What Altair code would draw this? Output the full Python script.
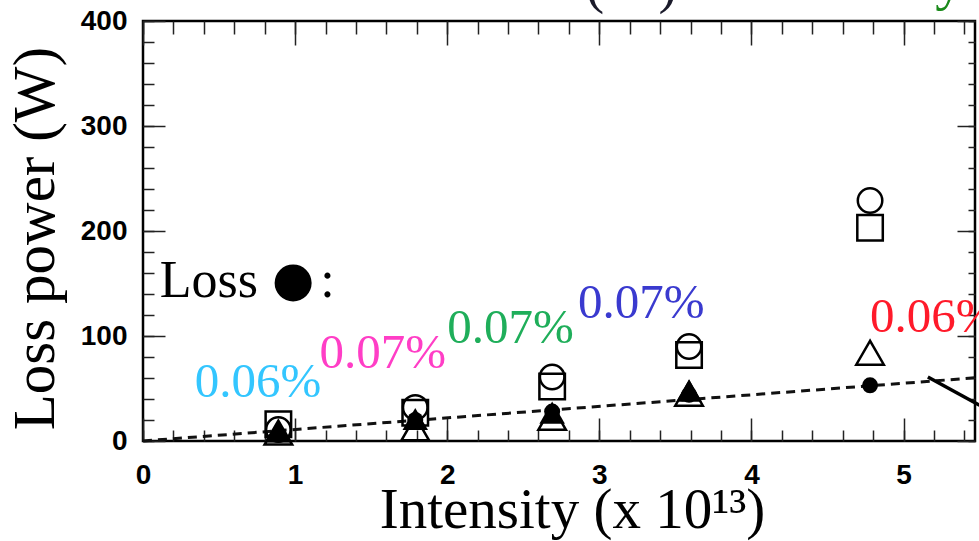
import altair as alt
import pandas as pd

# ---- data ----
x_int = [0.89, 1.79, 2.69, 3.59, 4.78]
open_circle = [11, 32, 61, 90, 229]
open_square = [16, 27, 52, 82, 203]
open_triangle = [8, 12, 22, 45, 84]
filled_circle = [6, 20, 28, 44, 53]
ftri_x = [0.89, 1.79, 2.69, 3.59]
filled_triangle = [9, 21, 27, 48]

fit_x = [0.0, 5.5]
fit_y = [0.0, 60.5]

arrow_x = [5.16, 5.5]
arrow_y = [61, 34]

pct_text = ["0.06%", "0.07%", "0.07%", "0.07%", "0.06%"]
pct_x = [0.34, 1.16, 2.0, 2.86, 4.78]
pct_y = [42, 70, 93, 117, 104]
pct_color = ["#33c6ff", "#ff3ec6", "#1fae5a", "#3a3acf", "#ff1a2a"]

legend_text = ["Loss", ":"]
legend_x = [0.11, 1.165]
legend_y = [137, 137]
legend_dot_x = [0.987]
legend_dot_y = [150.5]

top_text = ["(", ")", "y"]
top_x = [2.97, 3.45, 5.30]
top_y = [418, 418, 421]
top_color = ["#1a1a2a", "#1a1a2a", "#1a8a1a"]

x_major = [0, 1, 2, 3, 4, 5]
x_minor = [0, 0.2, 0.4, 0.6, 0.8, 1.0, 1.2, 1.4, 1.6, 1.8, 2.0, 2.2, 2.4, 2.6,
           2.8, 3.0, 3.2, 3.4, 3.6, 3.8, 4.0, 4.2, 4.4, 4.6, 4.8, 5.0, 5.2, 5.4]
y_major = [0, 100, 200, 300, 400]
y_minor = [0, 20, 40, 60, 80, 100, 120, 140, 160, 180, 200, 220, 240, 260, 280,
           300, 320, 340, 360, 380, 400]

# ---- tables ----
def pts(xs, ys):
    return pd.DataFrame({"x": xs, "y": ys})

xs = alt.Scale(domain=[0, 5.47], nice=False, zero=False)
ys = alt.Scale(domain=[0, 400], nice=False, zero=False)

serif = "Liberation Serif"
sans = "Liberation Sans"

def enc(chart, xaxis=None, yaxis=None):
    return chart.encode(
        x=alt.X("x:Q", scale=xs, axis=xaxis),
        y=alt.Y("y:Q", scale=ys, axis=yaxis),
    )

base_df = pts(x_int, open_circle)

# axis layers
lab_x = alt.Axis(orient="bottom", values=x_major, ticks=False, domain=False, grid=False,
                 labelFont=sans, labelFontWeight="bold", labelFontSize=28, labelColor="black",
                 labelPadding=20, labelFlush=False, format="d",
                 title="Intensity (x 10¹³)", titleFont=serif, titleFontSize=57,
                 titleFontWeight="normal", titleColor="black", titleBaseline="alphabetic",
                 titleAlign="center", titleX=429, titleY=86)
lab_y = alt.Axis(orient="left", values=y_major, ticks=False, domain=False, grid=False,
                 labelFont=sans, labelFontWeight="bold", labelFontSize=28, labelColor="black",
                 labelPadding=16, labelFlush=False, format="d",
                 title="Loss power (W)", titleFont=serif, titleFontSize=59,
                 titleFontWeight="normal", titleColor="black", titleBaseline="alphabetic",
                 titleAlign="center", titleAngle=270, titleX=-90, titleY=217)

def tick_axis(orient, values, size):
    return alt.Axis(orient=orient, values=values, labels=False, domain=False, grid=False,
                    ticks=True, tickSize=size, offset=-size, tickColor="#222",
                    tickWidth=1.5, title=None)

ghost = alt.Chart(base_df).mark_point(opacity=0)
axes_layers = [
    enc(ghost, lab_x, lab_y),
    enc(ghost, tick_axis("bottom", x_major, 23), tick_axis("left", y_major, 22)),
    enc(ghost, tick_axis("bottom", x_minor, 11), tick_axis("left", y_minor, 11)),
    enc(ghost, tick_axis("top", x_major, 24), tick_axis("right", y_major, 18)),
    enc(ghost, tick_axis("top", x_minor, 13), tick_axis("right", y_minor, 7)),
]

fit = enc(alt.Chart(pts(fit_x, fit_y)).mark_line(color="#111", strokeWidth=3, strokeDash=[9, 6]))
arrow = enc(alt.Chart(pts(arrow_x, arrow_y)).mark_line(color="black", strokeWidth=3.5))

o_circ = enc(alt.Chart(pts(x_int, open_circle)).mark_point(
    shape="circle", filled=False, size=600, color="black", strokeWidth=2.5, opacity=1))
o_sq = enc(alt.Chart(pts(x_int, open_square)).mark_point(
    shape="square", filled=False, size=650, color="black", strokeWidth=2.5, opacity=1))
o_tri = enc(alt.Chart(pts(x_int, open_triangle)).mark_point(
    shape="triangle-up", filled=False, size=760, color="black", strokeWidth=2.5, opacity=1))
f_tri = enc(alt.Chart(pts(ftri_x, filled_triangle)).mark_point(
    shape="triangle-up", filled=True, size=650, color="black", opacity=1))
f_circ = enc(alt.Chart(pts(x_int, filled_circle)).mark_point(
    shape="circle", filled=True, size=256, color="black", opacity=1))

pct_df = pd.DataFrame({"x": pct_x, "y": pct_y, "t": pct_text, "c": pct_color})
pct = enc(alt.Chart(pct_df).mark_text(font=serif, fontSize=49, align="left",
                                      baseline="alphabetic")).encode(
    text="t:N", color=alt.Color("c:N", scale=None))

leg_df = pd.DataFrame({"x": legend_x, "y": legend_y, "t": legend_text})
leg = enc(alt.Chart(leg_df).mark_text(font=serif, fontSize=52, align="left",
                                      baseline="alphabetic", color="black")).encode(text="t:N")
leg_dot = enc(alt.Chart(pts(legend_dot_x, legend_dot_y)).mark_point(
    shape="circle", filled=True, size=1370, color="black", opacity=1))

top_df = pd.DataFrame({"x": top_x, "y": top_y, "t": top_text, "c": top_color})
top = enc(alt.Chart(top_df).mark_text(font=serif, fontSize=56, align="center",
                                      baseline="alphabetic")).encode(
    text="t:N", color=alt.Color("c:N", scale=None))

chart = alt.layer(
    *axes_layers, fit, arrow, o_circ, o_sq, o_tri, f_tri, f_circ, pct, leg, leg_dot, top
).resolve_scale(x="shared", y="shared").resolve_axis(
    x="independent", y="independent"
).properties(
    width=832, height=420,
    autosize=alt.AutoSizeParams(type="none"),
    padding={"left": 143, "top": 21, "right": 4, "bottom": 100},
    background="white",
).configure_view(stroke="black", strokeWidth=2.5)

chart.save("out.html", embed_options={"renderer": "svg", "actions": False})
